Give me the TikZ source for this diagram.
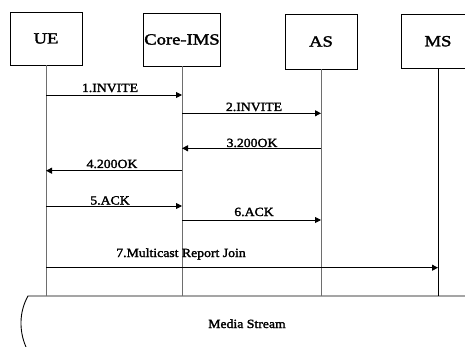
\documentclass[tikz,border=0pt]{standalone}
\usepackage{fontspec}
\setmainfont{Liberation Serif}
\newfontfamily\boxfont[FakeStretch=1.2,FakeBold=2]{Liberation Serif}
\newfontfamily\msgfont[FakeStretch=1.1,FakeBold=2]{Liberation Serif}
\usetikzlibrary{arrows.meta}
\definecolor{lineGray}{RGB}{110,110,110}
\tikzset{
  party/.style={rectangle, draw=black, line width=0.9pt, inner sep=0pt,
                minimum width=72pt, minimum height=54pt,
                font=\boxfont\fontsize{15.5}{18}\selectfont},
  lifeline/.style={draw=lineGray, line width=1pt},
  msg/.style={-{Triangle[length=6pt,width=6pt]}, draw=black, line width=0.9pt},
  lbl/.style={anchor=base, inner sep=0pt, font=\msgfont\fontsize{12.5}{14}\selectfont},
}

\begin{document}
\begin{tikzpicture}[x=1pt, y=-1pt]
  \useasboundingbox (0,0) rectangle (465,347);
  % participants
  \node[party, minimum height=53pt] (ue) at (46,38.5) {UE};
  \node[party, minimum width=77pt, minimum height=53pt] (core) at (182,39.5) {Core-IMS};
  \node[party, minimum height=55pt] (as) at (321,41.5) {AS};
  \node[party, minimum width=73pt] (ms) at (438,41.2) {MS};
  % media stream
  \coordinate (mtop) at (28,296);
  \coordinate (mend) at (465,296);
  \draw[line width=0.9pt] (mend) -- (mtop) .. controls (19,312) and (19,331) .. (26,347);
  \node[lbl] (media) at (247,328) {Media Stream};
  % lifelines
  \draw[lifeline] (ue.south) -- (ue.south |- mtop);
  \draw[lifeline] (core.south) -- (core.south |- mtop);
  \draw[lifeline] (as.south) -- (as.south |- mtop);
  \draw[lifeline, draw=black] (ms.south) -- (ms.south |- mtop);
  % messages
  \draw[msg] (ue.south |- 0,95) -- (core.south |- 0,95);
  \node[lbl] (m1) at (110,92) {1.INVITE};
  \draw[msg] (core.south |- 0,113.3) -- (as.south |- 0,113.3);
  \node[lbl] (m2) at (254,111) {2.INVITE};
  \draw[msg] (as.south |- 0,148.3) -- (core.south |- 0,148.3);
  \node[lbl] (m3) at (252,147) {3.200OK};
  \draw[msg] (core.south |- 0,170.7) -- (ue.south |- 0,170.7);
  \node[lbl] (m4) at (112,168) {4.200OK};
  \draw[msg] (ue.south |- 0,206) -- (core.south |- 0,206);
  \node[lbl] (m5) at (110,204.5) {5.ACK};
  \draw[msg] (core.south |- 0,220) -- (as.south |- 0,220);
  \node[lbl] (m6) at (254,216) {6.ACK};
  \draw[msg] (ue.south |- 0,267.7) -- (ms.south |- 0,267.7);
  \node[lbl] (m7) at (181,257) {7.Multicast Report Join};
\end{tikzpicture}
\end{document}
